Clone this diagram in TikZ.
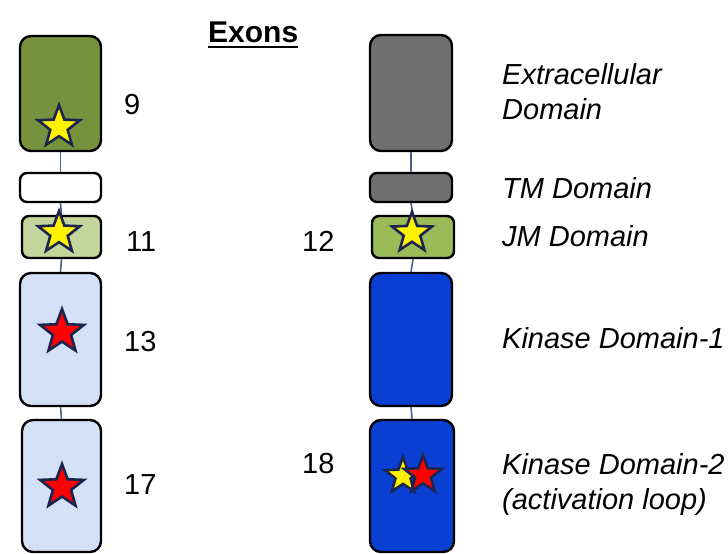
\documentclass[tikz,border=0pt]{standalone}
\usepackage{fontspec}
\setmainfont{Liberation Sans}
\usetikzlibrary{shapes.geometric}

\definecolor{olivedark}{HTML}{76923C}
\definecolor{olivemid}{HTML}{9BBB59}
\definecolor{olivelight}{HTML}{C3D69B}
\definecolor{paleblue}{HTML}{D3E0F6}
\definecolor{kinase}{HTML}{0A3FD4}
\definecolor{greybox}{HTML}{6F6F6F}
\definecolor{starline}{HTML}{1C2450}
\definecolor{linkline}{HTML}{4A6288}

\tikzset{
  exonbox/.style={draw=black, line width=2.4pt, rounded corners=#1, inner sep=0pt},
  exonbox/.default=11pt,
  link/.style={draw=linkline, line width=1.6pt},
  starmark/.style={star, star points=5, star point ratio=2.4, inner sep=0pt,
    draw=starline, line width=2.6pt, minimum size=#1},
  starmark/.default=44pt,
  ystar/.style={starmark=#1, fill=yellow},
  ystar/.default=44pt,
  rstar/.style={starmark=#1, fill=red},
  rstar/.default=44pt,
  num/.style={anchor=base west, inner sep=0pt, font=\fontsize{29}{34}\selectfont},
  dom/.style={anchor=base west, inner sep=0pt, font=\fontsize{29}{35}\selectfont\itshape, align=left},
}

\begin{document}
\begin{tikzpicture}[x=1pt, y=-1pt]
  \useasboundingbox (0,0) rectangle (728,554);

  % title
  \node[anchor=base west, inner sep=0pt, font=\fontsize{30}{34}\selectfont\bfseries] (title) at (208,42) {Exons};
  \draw[line width=2.6pt] ([yshift=-5pt]title.base west) -- ([yshift=-5pt]title.base east);

  % exon column
  \node[exonbox, fill=olivedark, minimum width=81pt, minimum height=115pt] (e9) at (60.5,93.5) {};
  \node[exonbox=7pt, fill=white, minimum width=81pt, minimum height=29pt] (e10) at (60.5,187.5) {};
  \node[exonbox=7pt, fill=olivelight, minimum width=79pt, minimum height=42pt] (e11) at (61.5,237) {};
  \node[exonbox, fill=paleblue, minimum width=81pt, minimum height=133pt] (e13) at (60.5,339.5) {};
  \node[exonbox, fill=paleblue, minimum width=79pt, minimum height=132pt] (e17) at (61.5,486) {};

  \draw[link] (e9.south) -- (e10.north);
  \draw[link] (e10.south) -- (e11.north);
  \draw[link] (e11.south) -- (e13.north);
  \draw[link] (e13.south) -- (e17.north);

  \node[ystar] (s9) at (59,127) {};
  \node[ystar] (s11) at (59,233) {};
  \node[rstar=46pt] (s13) at (62,332) {};
  \node[rstar=46pt] (s17) at (62,487) {};

  \node[num] (n9) at (124,114) {9};
  \node[num] (n11) at (126,251) {11};
  \node[num] (n13) at (124,351) {13};
  \node[num] (n17) at (124,494) {17};

  % protein domain column
  \node[exonbox, fill=greybox, minimum width=82pt, minimum height=116pt] (ec) at (411,93) {};
  \node[exonbox=7pt, fill=greybox, minimum width=82pt, minimum height=29pt] (tm) at (411,187.5) {};
  \node[exonbox=7pt, fill=olivemid, minimum width=82pt, minimum height=42pt] (jm) at (413,237) {};
  \node[exonbox, fill=kinase, minimum width=82pt, minimum height=133pt] (k1) at (411,339.5) {};
  \node[exonbox, fill=kinase, minimum width=84pt, minimum height=132pt] (k2) at (412,486) {};

  \draw[link] (ec.south) -- (tm.north);
  \draw[link] (tm.south) -- (jm.north);
  \draw[link] (jm.south) -- (k1.north);
  \draw[link] (k1.south) -- (k2.north);

  \node[ystar=42pt] (sjm) at (412,233) {};
  \node[ystar=38pt] (sk2a) at (403,476) {};
  \node[rstar=40pt] (sk2b) at (423,475) {};

  \node[num] (n12) at (302,251) {12};
  \node[num] (n18) at (302,473) {18};

  \node[dom] (lec) at (502,119) {Extracellular\\Domain};
  \node[dom] (ltm) at (502,198) {TM Domain};
  \node[dom] (ljm) at (502,246) {JM Domain};
  \node[dom] (lk1) at (502,348) {Kinase Domain-1};
  \node[dom] (lk2) at (502,509) {Kinase Domain-2\\(activation loop)};
\end{tikzpicture}
\end{document}
